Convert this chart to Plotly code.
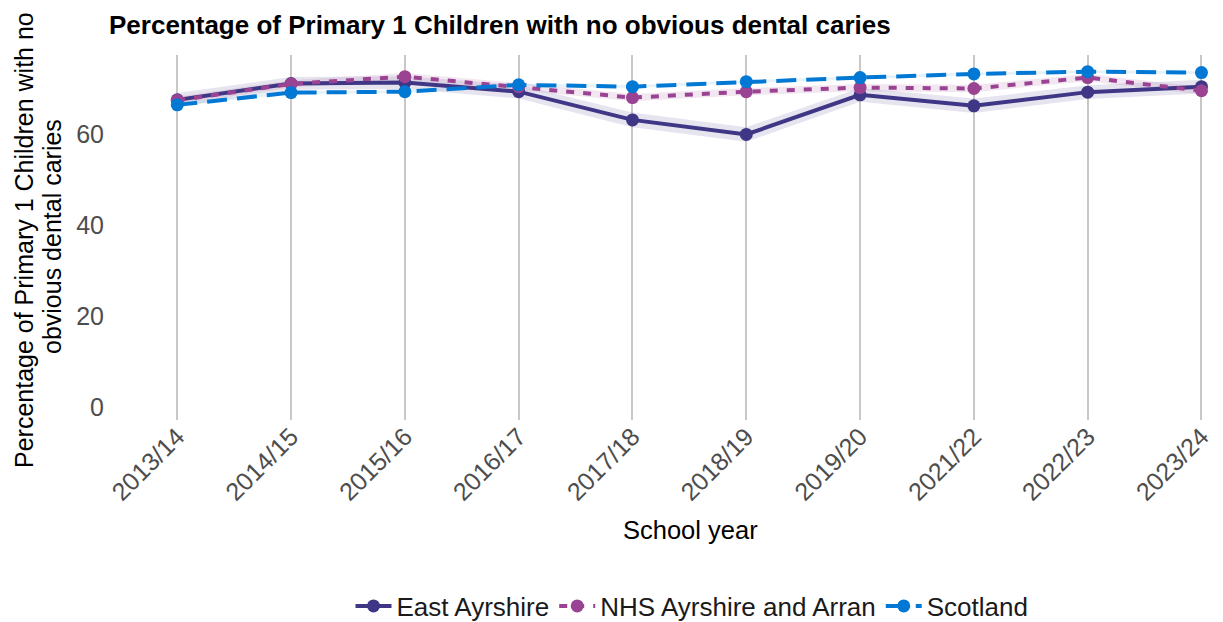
import plotly.graph_objects as go

years = ["2013/14", "2014/15", "2015/16", "2016/17", "2017/18", "2018/19",
         "2019/20", "2021/22", "2022/23", "2023/24"]

east_ayrshire = [67.5, 71.1, 71.3, 69.3, 63.1, 59.9, 68.6, 66.2, 69.2, 70.4]
east_lower = [66.0, 69.7, 69.9, 67.8, 61.5, 58.3, 67.1, 64.6, 67.7, 68.9]
east_upper = [69.0, 72.5, 72.7, 70.8, 64.7, 61.5, 70.1, 67.8, 70.7, 71.9]

nhs_aa = [67.4, 71.0, 72.6, 70.4, 68.0, 69.3, 70.2, 70.0, 72.4, 69.5]
nhs_lower = [66.6, 70.2, 71.8, 69.6, 67.2, 68.5, 69.4, 69.2, 71.6, 68.7]
nhs_upper = [68.2, 71.8, 73.4, 71.2, 68.8, 70.1, 71.0, 70.8, 73.2, 70.3]

scotland = [66.4, 69.1, 69.3, 70.8, 70.4, 71.5, 72.4, 73.2, 73.7, 73.5]
scot_lower = [66.1, 68.8, 69.0, 70.5, 70.1, 71.2, 72.1, 72.9, 73.4, 73.2]
scot_upper = [66.7, 69.4, 69.6, 71.1, 70.7, 71.8, 72.7, 73.5, 74.0, 73.8]

series = [
    ("East Ayrshire", east_ayrshire, east_lower, east_upper, "#3F3685", "rgba(63,54,133,0.13)", "solid"),
    ("NHS Ayrshire and Arran", nhs_aa, nhs_lower, nhs_upper, "#9B4393", "rgba(155,67,147,0.13)", "8px,9px"),
    ("Scotland", scotland, scot_lower, scot_upper, "#0078D4", "rgba(0,120,212,0.10)", "20px,10px"),
]

idx = list(range(len(years)))
fig = go.Figure()

for name, vals, lo, hi, col, fillc, dash in series:
    fig.add_trace(go.Scatter(
        x=idx + idx[::-1], y=hi + lo[::-1], fill="toself", fillcolor=fillc,
        line=dict(width=0), mode="lines", showlegend=False, hoverinfo="skip"))

for name, vals, lo, hi, col, fillc, dash in series:
    fig.add_trace(go.Scatter(
        x=idx, y=vals, name=name, mode="lines+markers",
        line=dict(color=col, width=4, dash=dash),
        marker=dict(color=col, size=13)))

# page has an 8px body margin, so the figure is drawn 8px in from the top-left
W, H = 1215, 614
L, T, B = 101, 47, 412          # plot area edges in figure pixels
PW, PH = W - L, B - T


def px_x(x):
    return (x - L) / PW


def px_y(y):
    return (B - y) / PH


font_family = "Liberation Sans, Arial, sans-serif"
fig.update_layout(
    width=W, height=H,
    paper_bgcolor="white", plot_bgcolor="white",
    font=dict(family=font_family, size=25, color="#000000"),
    margin=dict(l=L, r=0, t=T, b=H - B, autoexpand=False),
    title=dict(text="<b>Percentage of Primary 1 Children with no obvious dental caries</b>",
               x=0, xref="paper", xanchor="left", y=1 - 17 / H, yref="container",
               yanchor="middle", font=dict(size=26, color="#000000")),
    showlegend=True,
    legend=dict(orientation="h", x=px_x(684), xanchor="center", xref="paper",
                y=px_y(598), yanchor="middle", yref="paper",
                font=dict(size=26, color="#1a1a1a"), traceorder="normal",
                itemwidth=36),
    xaxis=dict(
        tickmode="array", tickvals=idx, ticktext=years, automargin=False,
        range=[-0.6, -0.6 + PW / 113.8], showgrid=True, gridcolor="#C8C8C8", gridwidth=2,
        zeroline=False, showline=False, ticks="", ticklabelstandoff=-4,
        tickangle=-45, tickfont=dict(size=25, color="#4D4D4D"),
    ),
    yaxis=dict(
        range=[-2.86, 77.36], tickvals=[0, 20, 40, 60], showgrid=False,
        automargin=False, zeroline=False, showline=False, ticks="",
        ticklabelstandoff=4,
        tickfont=dict(size=25, color="#4D4D4D"),
    ),
    annotations=[
        dict(text="School year", x=px_x(682), xref="paper", y=px_y(522), yref="paper",
             showarrow=False, font=dict(size=25.5, color="#000000"),
             xanchor="center", yanchor="middle"),
        dict(text="Percentage of Primary 1 Children with no", x=px_x(16), xref="paper",
             y=px_y(232), yref="paper", textangle=-90, showarrow=False,
             font=dict(size=25, color="#000000"), xanchor="center", yanchor="middle"),
        dict(text="obvious dental caries", x=px_x(44), xref="paper",
             y=px_y(229), yref="paper", textangle=-90, showarrow=False,
             font=dict(size=25, color="#000000"), xanchor="center", yanchor="middle"),
    ],
)

fig.write_html("out.html")
